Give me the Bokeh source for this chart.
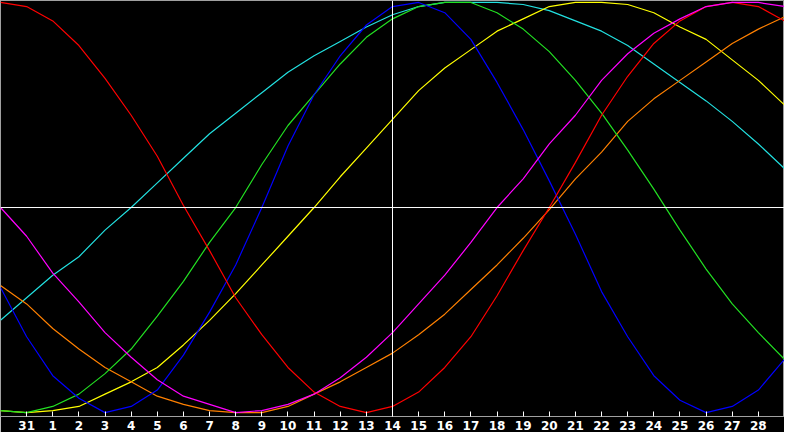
from bokeh.plotting import figure
from bokeh.models import Range1d, FixedTicker, Span
from bokeh.embed import file_html
from bokeh.resources import INLINE

# day labels under the ticks (index 0 = Jan 30, index 30 = Mar 1)
tick_labels = ["31", "1", "2", "3", "4", "5", "6", "7", "8", "9", "10", "11", "12", "13",
               "14", "15", "16", "17", "18", "19", "20", "21", "22", "23", "24", "25",
               "26", "27", "28"]
days = list(range(31))
today = 15

# biorhythm values in percent
physical = [-39, -63, -82, -93, -100, -97, -89, -72, -51, -28, 0, 30, 55, 74, 89, 98,
            100, 95, 82, 61, 38, 13, -13, -41, -63, -82, -94, -100, -97, -89, -74]
emotional = [100, 98, 91, 79, 63, 45, 25, 1, -21, -44, -62, -78, -90, -97, -100, -97,
             -90, -78, -63, -43, -21, 0, 22, 45, 64, 80, 91, 98, 100, 98, 91]
intellectual = [-99, -100, -97, -91, -81, -69, -53, -36, -17, 0, 21, 40, 55, 70, 83, 92,
                98, 100, 100, 95, 87, 76, 62, 46, 28, 9, -11, -30, -47, -61, -74]
intuitive = [0, -14, -32, -46, -61, -73, -84, -92, -96, -100, -99, -96, -91, -83, -73, -61,
             -47, -33, -17, 0, 14, 31, 45, 62, 75, 85, 92, 98, 100, 100, 98]
aesthetic = [-99, -100, -99, -97, -91, -85, -78, -67, -55, -42, -28, -14, 0, 15, 29, 43,
             57, 68, 77, 86, 92, 98, 100, 100, 99, 95, 88, 82, 72, 62, 50]
awareness = [-38, -47, -59, -69, -78, -85, -92, -96, -99, -100, -100, -97, -91, -85, -78, -71,
             -62, -52, -40, -28, -15, -1, 14, 27, 42, 53, 62, 71, 80, 87, 93]
spiritual = [-55, -44, -33, -24, -11, 0, 12, 24, 36, 46, 56, 66, 74, 81, 88, 94,
             98, 100, 100, 100, 99, 96, 91, 86, 79, 70, 61, 52, 42, 31, 19]

p = figure(width=784, height=432, output_backend="svg", toolbar_location=None,
           x_range=Range1d(0, 30), y_range=Range1d(-101.9, 100.95),
           background_fill_color="black", border_fill_color="black", min_border=0)

p.grid.visible = False
p.yaxis.visible = False
p.outline_line_color = "#a0a0a0"

ax = p.xaxis[0]
ax.ticker = FixedTicker(ticks=list(range(1, 30)))
ax.major_label_overrides = {i + 1: lab for i, lab in enumerate(tick_labels)}
ax.axis_line_color = "#a0a0a0"
ax.major_tick_line_color = "white"
ax.major_tick_in = 5
ax.major_tick_out = 0
ax.minor_tick_line_color = None
ax.major_label_text_color = "white"
ax.major_label_text_font = "DejaVu Sans"
ax.major_label_text_font_style = "bold"
ax.major_label_text_font_size = "12px"
ax.major_label_standoff = 4

p.add_layout(Span(location=0, dimension="width", line_color="white", line_width=1))
p.add_layout(Span(location=today, dimension="height", line_color="white", line_width=1))

lw = 1.2
p.line(days, spiritual, color="#22E0E0", line_width=lw)
p.line(days, aesthetic, color="#FFFF00", line_width=lw)
p.line(days, awareness, color="#FF8000", line_width=lw)
p.line(days, intellectual, color="#22E022", line_width=lw)
p.line(days, physical, color="#0000FF", line_width=lw)
p.line(days, emotional, color="#FF0000", line_width=lw)
p.line(days, intuitive, color="#FF00FF", line_width=lw)

open("out.html", "w").write(file_html(p, INLINE))
